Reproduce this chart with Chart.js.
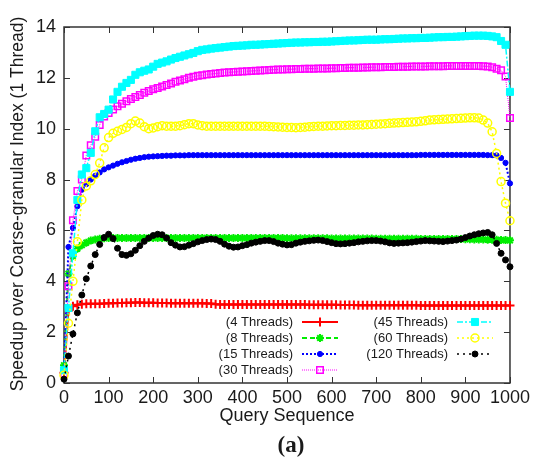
<!DOCTYPE html>
<html>
<head>
<meta charset="utf-8">
<script src="https://cdn.jsdelivr.net/npm/chart.js@4"></script>
<style>
  body { margin: 0; background: #fff; }
  #wrap { width: 534px; height: 463px; }
</style>
</head>
<body>
<div id="wrap"><canvas id="myChart"></canvas></div>
<script>
// query positions (x)
var queries = [0,10,20,30,40,50,60,70,80,90,
  100,110,120,130,140,150,160,170,180,190,
  200,210,220,230,240,250,260,270,280,290,
  300,310,320,330,340,350,360,370,380,390,
  400,410,420,430,440,450,460,470,480,490,
  500,510,520,530,540,550,560,570,580,590,
  600,610,620,630,640,650,660,670,680,690,
  700,710,720,730,740,750,760,770,780,790,
  800,810,820,830,840,850,860,870,880,890,
  900,910,920,930,940,950,960,970,980,990,1000];

var t4 = [0.4,2.85,3.02,3.08,3.1,3.12,3.12,3.12,3.12,3.13,
  3.14,3.14,3.15,3.15,3.16,3.16,3.17,3.17,3.16,3.16,
  3.16,3.15,3.15,3.15,3.14,3.14,3.14,3.14,3.14,3.14,
  3.14,3.14,3.13,3.13,3.1,3.09,3.09,3.09,3.09,3.09,
  3.09,3.09,3.09,3.09,3.09,3.09,3.09,3.09,3.09,3.09,
  3.09,3.09,3.09,3.09,3.09,3.08,3.08,3.08,3.08,3.08,
  3.08,3.08,3.07,3.07,3.07,3.07,3.06,3.06,3.06,3.06,
  3.06,3.06,3.06,3.06,3.06,3.06,3.06,3.06,3.06,3.06,
  3.05,3.05,3.05,3.05,3.05,3.05,3.05,3.05,3.05,3.05,
  3.05,3.05,3.05,3.05,3.05,3.05,3.05,3.05,3.05,3.05,3.05];

var t8 = [0.7,4.3,5.0,5.28,5.42,5.52,5.6,5.64,5.67,5.69,
  5.7,5.7,5.7,5.7,5.7,5.7,5.7,5.7,5.7,5.7,
  5.7,5.7,5.7,5.7,5.7,5.7,5.7,5.7,5.7,5.7,
  5.7,5.7,5.7,5.7,5.7,5.7,5.7,5.7,5.7,5.7,
  5.7,5.7,5.7,5.7,5.7,5.7,5.7,5.7,5.7,5.7,
  5.69,5.69,5.69,5.69,5.69,5.69,5.69,5.69,5.69,5.69,
  5.68,5.68,5.68,5.68,5.68,5.68,5.68,5.68,5.68,5.68,
  5.67,5.67,5.67,5.67,5.67,5.67,5.67,5.67,5.67,5.67,
  5.66,5.66,5.66,5.66,5.66,5.66,5.66,5.66,5.66,5.66,
  5.65,5.65,5.64,5.64,5.64,5.63,5.63,5.63,5.62,5.62,5.61];

var t15 = [0.5,5.35,6.1,6.95,7.6,7.82,8.0,8.15,8.28,8.4,
  8.48,8.55,8.62,8.68,8.73,8.78,8.82,8.85,8.88,8.9,
  8.91,8.92,8.93,8.94,8.94,8.95,8.95,8.95,8.96,8.96,
  8.96,8.96,8.96,8.96,8.96,8.96,8.96,8.96,8.96,8.96,
  8.96,8.96,8.96,8.96,8.96,8.96,8.96,8.96,8.96,8.96,
  8.96,8.96,8.96,8.96,8.96,8.96,8.96,8.96,8.96,8.96,
  8.96,8.96,8.96,8.96,8.96,8.96,8.96,8.96,8.96,8.96,
  8.96,8.96,8.96,8.96,8.96,8.96,8.96,8.96,8.96,8.96,
  8.97,8.97,8.97,8.97,8.97,8.97,8.97,8.97,8.97,8.97,
  8.97,8.97,8.97,8.97,8.97,8.96,8.96,8.95,8.85,8.66,7.85];

var t30 = [0.35,3.8,6.4,7.55,8.0,8.95,9.35,9.68,10.15,10.48,
  10.62,10.76,10.88,10.98,11.08,11.17,11.25,11.33,11.41,11.48,
  11.55,11.6,11.66,11.72,11.78,11.85,11.9,11.95,12.0,12.04,
  12.08,12.1,12.13,12.15,12.17,12.19,12.21,12.22,12.23,12.24,
  12.25,12.26,12.27,12.28,12.29,12.3,12.31,12.32,12.33,12.33,
  12.34,12.34,12.35,12.35,12.36,12.36,12.36,12.37,12.37,12.37,
  12.38,12.38,12.39,12.39,12.4,12.4,12.4,12.41,12.41,12.42,
  12.42,12.42,12.43,12.43,12.43,12.44,12.44,12.44,12.45,12.45,
  12.45,12.45,12.46,12.46,12.46,12.46,12.47,12.47,12.47,12.47,
  12.47,12.47,12.47,12.47,12.46,12.45,12.42,12.36,12.3,12.05,10.42];

var t45 = [0.5,2.95,5.1,7.2,8.2,8.45,9.05,9.9,10.45,10.58,
  10.75,11.15,11.45,11.65,11.8,11.92,12.12,12.22,12.28,12.33,
  12.44,12.55,12.6,12.65,12.72,12.78,12.83,12.88,12.93,12.98,
  13.05,13.1,13.12,13.15,13.17,13.19,13.21,13.23,13.25,13.26,
  13.27,13.28,13.3,13.3,13.31,13.32,13.33,13.34,13.35,13.36,
  13.37,13.38,13.39,13.39,13.4,13.4,13.41,13.41,13.42,13.42,
  13.43,13.44,13.45,13.46,13.47,13.47,13.48,13.49,13.5,13.5,
  13.5,13.51,13.52,13.52,13.53,13.54,13.55,13.55,13.56,13.56,
  13.57,13.57,13.58,13.59,13.6,13.6,13.61,13.61,13.62,13.63,
  13.64,13.65,13.66,13.66,13.66,13.65,13.63,13.6,13.45,13.3,11.45];

var t60 = [0.3,2.35,4.0,5.55,7.2,7.75,7.95,8.2,8.65,9.25,
  9.65,9.82,9.9,9.97,10.05,10.2,10.3,10.22,10.08,10.0,
  10.03,10.08,10.12,10.1,10.1,10.1,10.12,10.16,10.2,10.2,
  10.15,10.12,10.1,10.1,10.1,10.1,10.1,10.1,10.1,10.1,
  10.1,10.1,10.1,10.1,10.1,10.1,10.09,10.08,10.07,10.06,
  10.05,10.05,10.04,10.05,10.06,10.08,10.09,10.1,10.1,10.11,
  10.12,10.12,10.13,10.13,10.14,10.14,10.15,10.15,10.16,10.17,
  10.18,10.19,10.2,10.21,10.22,10.23,10.24,10.25,10.26,10.27,
  10.29,10.31,10.34,10.35,10.36,10.37,10.38,10.39,10.4,10.41,
  10.42,10.43,10.43,10.42,10.34,10.22,9.88,9.03,7.92,7.07,6.38];

var t120 = [0.15,1.06,1.93,2.76,3.46,4.1,4.6,5.05,5.45,5.72,
  5.85,5.68,5.3,5.05,5.02,5.08,5.22,5.4,5.57,5.7,
  5.8,5.85,5.83,5.7,5.52,5.42,5.35,5.36,5.42,5.48,
  5.55,5.6,5.64,5.66,5.64,5.57,5.46,5.38,5.34,5.35,
  5.4,5.44,5.5,5.54,5.57,5.6,5.6,5.56,5.5,5.46,
  5.43,5.44,5.5,5.54,5.57,5.59,5.61,5.62,5.6,5.56,
  5.52,5.48,5.47,5.48,5.5,5.52,5.55,5.57,5.59,5.6,
  5.6,5.58,5.55,5.51,5.49,5.5,5.51,5.52,5.54,5.56,
  5.58,5.6,5.59,5.58,5.57,5.56,5.58,5.6,5.62,5.66,
  5.72,5.78,5.83,5.87,5.9,5.92,5.83,5.49,5.1,4.84,4.57];

var yTicks = [0,2,4,6,8,10,12,14];
var xTicks = [0,100,200,300,400,500,600,700,800,900,1000];

function pts(vals) {
  return vals.map(function (v, i) { return { x: queries[i], y: v }; });
}

var FONT = "'Liberation Sans', Arial, sans-serif";
var INK = '#1a1a1a';

// series: label, data, colour, dash, line width, marker, radius, filled, marker width
var series = [
  ['(4 Threads)', t4, '#ff0000', [], 2, 'cross', 4.5, false, 2],
  ['(8 Threads)', t8, '#00ee00', [5, 3], 2, 'star', 4, false, 2],
  ['(15 Threads)', t15, '#0000ff', [2, 2], 2, 'circle', 2.6, true, 1],
  ['(30 Threads)', t30, '#ff00ff', [1, 1], 1, 'rect', 4.6, false, 1.5],
  ['(45 Threads)', t45, '#00ffff', [6, 2, 2, 2], 1.5, 'rect', 5, true, 1],
  ['(60 Threads)', t60, '#ffff00', [2, 3], 1.5, 'circle', 4, false, 1.5],
  ['(120 Threads)', t120, '#000000', [2, 4], 1.5, 'circle', 3, true, 1]
];

var datasets = series.map(function (s, i) {
  return {
    label: s[0],
    data: pts(s[1]),
    borderColor: s[2],
    backgroundColor: s[2],
    borderDash: s[3],
    borderWidth: s[4],
    pointStyle: s[5],
    pointRadius: s[6],
    pointBackgroundColor: s[7] ? s[2] : 'rgba(255,255,255,0)',
    pointBorderColor: s[2],
    pointBorderWidth: s[8],
    fill: false,
    tension: 0,
    clip: 10,
    order: series.length - i
  };
});

// marker for the legend sample
function drawMark(ctx, ds, x, y) {
  var r = ds.pointRadius;
  ctx.save();
  ctx.setLineDash([]);
  ctx.lineWidth = ds.pointBorderWidth;
  ctx.strokeStyle = ds.pointBorderColor;
  ctx.fillStyle = ds.pointBackgroundColor;
  ctx.beginPath();
  if (ds.pointStyle === 'circle') {
    ctx.arc(x, y, r, 0, Math.PI * 2);
    ctx.fill();
    ctx.stroke();
  } else if (ds.pointStyle === 'rect') {
    var h = r / Math.SQRT2;
    ctx.rect(x - h, y - h, 2 * h, 2 * h);
    ctx.fill();
    ctx.stroke();
  } else {
    ctx.moveTo(x - r, y); ctx.lineTo(x + r, y);
    ctx.moveTo(x, y - r); ctx.lineTo(x, y + r);
    if (ds.pointStyle === 'star') {
      var d = r * 0.7;
      ctx.moveTo(x - d, y - d); ctx.lineTo(x + d, y + d);
      ctx.moveTo(x - d, y + d); ctx.lineTo(x + d, y - d);
    }
    ctx.stroke();
  }
  ctx.restore();
}

var framePlugin = {
  id: 'frame',
  beforeDatasetsDraw: function (chart) {
    var ctx = chart.ctx, a = chart.chartArea;
    var xs = chart.scales.x, ys = chart.scales.y;
    ctx.save();
    ctx.strokeStyle = '#333';
    ctx.lineWidth = 1.5;
    ctx.strokeRect(a.left, a.top, a.right - a.left, a.bottom - a.top);
    ctx.lineWidth = 1;
    ctx.beginPath();
    xTicks.forEach(function (v) {
      var px = Math.round(xs.getPixelForValue(v)) + 0.5;
      ctx.moveTo(px, a.bottom); ctx.lineTo(px, a.bottom - 6);
      ctx.moveTo(px, a.top); ctx.lineTo(px, a.top + 6);
    });
    yTicks.forEach(function (v) {
      var py = Math.round(ys.getPixelForValue(v)) + 0.5;
      ctx.moveTo(a.left, py); ctx.lineTo(a.left + 6, py);
      ctx.moveTo(a.right, py); ctx.lineTo(a.right - 6, py);
    });
    ctx.stroke();
    ctx.restore();
  },
  afterDraw: function (chart) {
    var ctx = chart.ctx, a = chart.chartArea;
    ctx.save();
    ctx.fillStyle = INK;
    ctx.textAlign = 'center';
    ctx.textBaseline = 'middle';
    ctx.font = '18px ' + FONT;
    ctx.fillText('Query Sequence', (a.left + a.right) / 2, 416);
    ctx.font = 'bold 23px "Liberation Serif", "Times New Roman", serif';
    ctx.fillText('(a)', 291, 446);
    ctx.translate(18, 204);
    ctx.rotate(-Math.PI / 2);
    ctx.font = '17.5px ' + FONT;
    ctx.fillText('Speedup over Coarse-granular Index (1 Thread)', 0, 0);
    ctx.restore();

    // legend, two columns inside the plot
    var cols = [[293, 302, 338], [448, 457, 493]];
    var rows = [322, 338, 354, 370];
    chart.data.datasets.forEach(function (ds, i) {
      var c = cols[i < 4 ? 0 : 1];
      var y = rows[i < 4 ? i : i - 4];
      ctx.save();
      ctx.fillStyle = INK;
      ctx.font = '13px ' + FONT;
      ctx.textAlign = 'right';
      ctx.textBaseline = 'middle';
      ctx.fillText(ds.label, c[0], y);
      ctx.strokeStyle = ds.borderColor;
      ctx.lineWidth = ds.borderWidth;
      ctx.setLineDash(ds.borderDash);
      ctx.beginPath();
      ctx.moveTo(c[1], y); ctx.lineTo(c[2], y);
      ctx.stroke();
      ctx.restore();
      drawMark(ctx, ds, (c[1] + c[2]) / 2, y);
    });
  }
};

var ctx = document.getElementById('myChart');
var myChart = new Chart(ctx, {
  type: 'line',
  data: { datasets: datasets },
  options: {
    responsive: true,
    maintainAspectRatio: false,
    animation: false,
    devicePixelRatio: 1,
    layout: { padding: { left: 0, top: 27, right: 24, bottom: 0 } },
    plugins: { legend: { display: false }, tooltip: { enabled: false } },
    scales: {
      x: {
        type: 'linear',
        min: 0, max: 1000,
        afterBuildTicks: function (s) { s.ticks = xTicks.map(function (v) { return { value: v }; }); },
        afterFit: function (s) { s.height = 80; },
        grid: { display: false, drawTicks: false },
        border: { display: false },
        ticks: {
          color: INK, font: { family: FONT, size: 18 }, padding: 4, maxRotation: 0, autoSkip: false,
          callback: function (v) { return String(v); }
        }
      },
      y: {
        min: 0, max: 14,
        afterBuildTicks: function (s) { s.ticks = yTicks.map(function (v) { return { value: v }; }); },
        afterFit: function (s) { s.width = 64; },
        grid: { display: false, drawTicks: false },
        border: { display: false },
        ticks: { color: INK, font: { family: FONT, size: 18 }, padding: 8 }
      }
    }
  },
  plugins: [framePlugin]
});
</script>
</body>
</html>
